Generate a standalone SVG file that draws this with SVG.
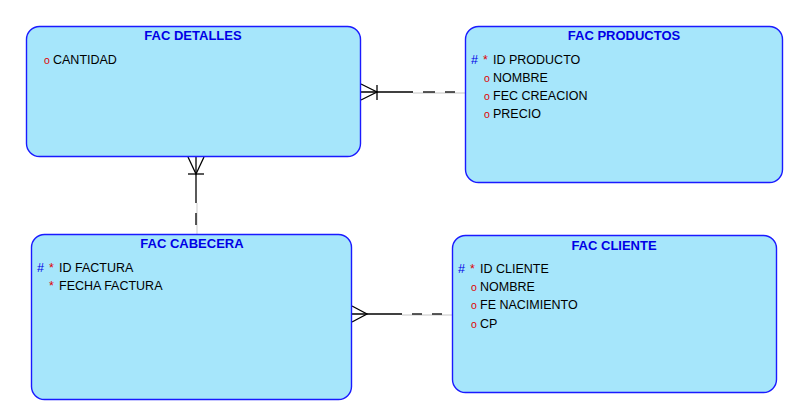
<svg xmlns="http://www.w3.org/2000/svg" width="794" height="410" viewBox="0 0 794 410">
<style>
.box{fill:#a6e6fb;stroke:#1a1aff;stroke-width:1.4}
.title{font-family:"Liberation Sans",Arial,sans-serif;font-size:13px;font-weight:bold;fill:#0000e6;text-anchor:middle}
.attr{font-family:"Liberation Sans",Arial,sans-serif;font-size:12.5px;fill:#000}
.pk{font-family:"Liberation Sans",Arial,sans-serif;font-size:12.5px;fill:#0000e6}
.req{font-family:"Liberation Sans",Arial,sans-serif;font-size:12.5px;fill:#e00000}
.opt{font-family:"Liberation Sans",Arial,sans-serif;font-size:10.5px;fill:#e00000}
.ln{stroke:#000;stroke-width:1.3;fill:none}
.ghost{stroke:#d8d8d8;stroke-width:1.3;fill:none}
</style>
<rect width="794" height="410" fill="#fff"/>
<g id="connectors">
  <g id="c1">
    <line class="ghost" x1="413" y1="93" x2="465" y2="93"/>
    <line class="ln" x1="361" y1="92" x2="413" y2="92"/>
    <line class="ln" x1="423" y1="92" x2="435" y2="92"/>
    <line class="ln" x1="445" y1="92" x2="455" y2="92"/>
    <polyline class="ln" points="361,84 377,92 361,100"/>
    <line class="ln" x1="377" y1="85" x2="377" y2="100"/>
  </g>
  <g id="c2">
    <line class="ghost" x1="197" y1="203" x2="197" y2="234"/>
    <line class="ln" x1="196" y1="157" x2="196" y2="203"/>
    <line class="ln" x1="196" y1="213" x2="196" y2="225"/>
    <polyline class="ln" points="188,157 196,174 204,157"/>
    <line class="ln" x1="188" y1="174" x2="204" y2="174"/>
  </g>
  <g id="c3">
    <line class="ghost" x1="402" y1="315" x2="452" y2="315"/>
    <line class="ln" x1="352" y1="314" x2="402" y2="314"/>
    <line class="ln" x1="412" y1="314" x2="422" y2="314"/>
    <line class="ln" x1="432" y1="314" x2="442" y2="314"/>
    <polyline class="ln" points="352,306 367,314 352,322"/>
  </g>
</g>
<g id="fac_detalles">
  <rect class="box" x="26.5" y="26.5" width="334" height="130" rx="13"/>
  <text class="title" x="193" y="40">FAC DETALLES</text>
  <text class="opt" x="44" y="64">o</text>
  <text class="attr" x="53" y="64">CANTIDAD</text>
</g>
<g id="fac_productos">
  <rect class="box" x="465.5" y="26.5" width="317" height="156" rx="13"/>
  <text class="title" x="624" y="40">FAC PRODUCTOS</text>
  <text class="pk" x="471" y="64">#</text>
  <text class="req" x="483" y="64">*</text>
  <text class="attr" x="493" y="64">ID PRODUCTO</text>
  <text class="opt" x="484" y="82">o</text>
  <text class="attr" x="493" y="82">NOMBRE</text>
  <text class="opt" x="484" y="100">o</text>
  <text class="attr" x="493" y="100">FEC CREACION</text>
  <text class="opt" x="484" y="118">o</text>
  <text class="attr" x="493" y="118">PRECIO</text>
</g>
<g id="fac_cabecera">
  <rect class="box" x="31.5" y="234.5" width="320" height="165" rx="13"/>
  <text class="title" x="192" y="248">FAC CABECERA</text>
  <text class="pk" x="37" y="272">#</text>
  <text class="req" x="49" y="272">*</text>
  <text class="attr" x="59" y="272">ID FACTURA</text>
  <text class="req" x="49" y="290">*</text>
  <text class="attr" x="59" y="290">FECHA FACTURA</text>
</g>
<g id="fac_cliente">
  <rect class="box" x="452.5" y="235.5" width="324" height="157" rx="13"/>
  <text class="title" x="614" y="250">FAC CLIENTE</text>
  <text class="pk" x="458" y="273">#</text>
  <text class="req" x="470" y="273">*</text>
  <text class="attr" x="480" y="273">ID CLIENTE</text>
  <text class="opt" x="471" y="291">o</text>
  <text class="attr" x="480" y="291">NOMBRE</text>
  <text class="opt" x="471" y="309">o</text>
  <text class="attr" x="480" y="309">FE NACIMIENTO</text>
  <text class="opt" x="471" y="328">o</text>
  <text class="attr" x="480" y="328">CP</text>
</g>
</svg>
